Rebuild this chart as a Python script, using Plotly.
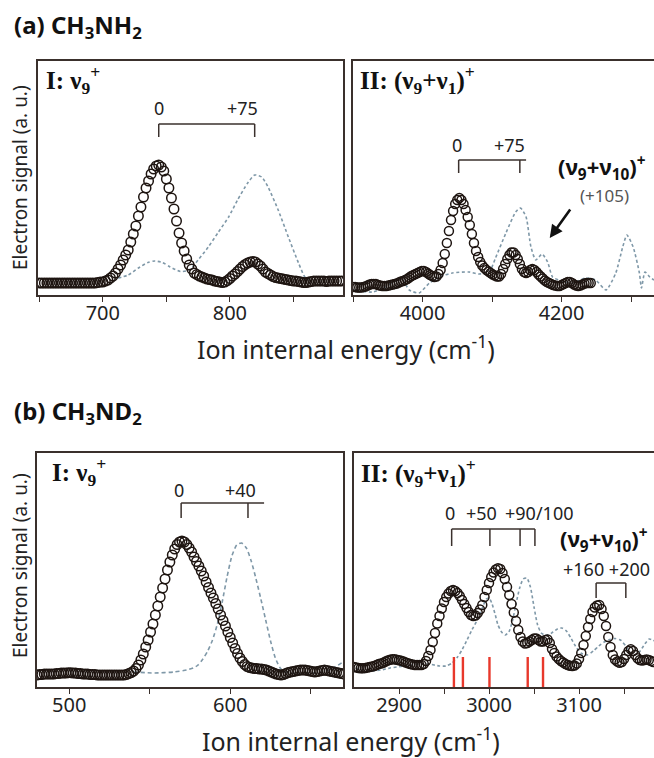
import plotly.graph_objects as go

W, H = 654, 758

# ---------------- DATA ----------------
# (a) CH3NH2, panel I : nu9+   (open circles on a uniform energy grid)
a1_circ_start, a1_circ_step = 650, 2
a1_circ = [12, 12, 12, 12, 12, 12, 12, 12, 12, 12, 12, 12, 12, 12, 12, 12, 12, 12, 12, 12, 12, 12, 12,
           12.5, 13, 13,
           14, 15, 17, 19, 22, 26, 30, 35, 40, 45, 53, 61, 69, 79, 88, 98, 107, 114, 121, 126, 129, 130,
           128, 124, 116, 107, 97, 86, 74, 62, 52, 44, 36, 30, 26, 22, 20.5, 19, 18, 17, 16, 15.5, 15,
           14, 13.5, 13, 12.5, 13, 14.5, 16.5, 19, 21, 23.5, 26, 28.5, 30.5, 32, 33, 33.5, 33, 31, 29,
           26, 23, 21.5, 20, 18.5, 17.5, 17, 16.5, 16, 15.5, 15, 14.5, 14, 14, 13.5, 13, 12.5, 12.5, 13,
           13.5, 14, 14, 14, 14, 14, 13.5, 14, 14, 14, 14, 14, 14]
a1_dash_x = [712, 720, 728, 735.5, 741, 747, 753, 761, 768, 775, 783, 791, 799, 806, 814, 819.5,
             825, 830, 838, 846, 854, 859, 863]
a1_dash_y = [17, 20, 27, 32.5, 34, 32.5, 28, 23.5, 25, 35, 48, 63, 78, 95, 112, 120,
             118, 108, 85, 58, 32, 18, 15]

# (a) CH3NH2, panel II : (nu9+nu1)+
a2_circ_start, a2_circ_step = 3900, 3
a2_circ = [8, 8, 7.5, 7.5, 7.5, 8, 8.5, 9.5, 10.5, 11, 11, 11, 10, 9.5, 9, 9, 9, 9.5, 10, 10.5,
           11, 11.5, 12.5, 13.5, 14, 15, 16, 17.5, 19, 20, 21, 22, 23, 24, 24, 23, 21.5, 20, 19, 18,
           18.5, 21, 25, 32, 41, 52, 64, 75, 84, 91, 95, 97, 95, 91, 85, 78, 70, 61, 52, 44,
           38, 33, 29.5, 27, 25, 23.5, 22, 20.5, 19.5, 18.5, 18.5, 21, 26, 31, 36, 40, 42.5, 42.5, 40, 36,
           31, 26, 23, 22, 23, 25, 26, 25, 23, 20.5, 18.5, 16.5, 14.5, 13, 12, 11, 10, 9.5, 9, 9,
           10, 11, 12, 13, 13, 12, 10.5, 9.5, 9, 9.5, 10.5, 11.5, 12, 12, 12]
a2_dash_x = [3899, 3928, 3947, 3969, 3981, 3995, 4010, 4024, 4043, 4067, 4081, 4096, 4105, 4120,
             4134, 4141, 4149, 4156, 4163, 4172, 4180, 4187, 4196, 4216, 4235, 4249, 4264, 4278,
             4288, 4294, 4303, 4312, 4315, 4320, 4327, 4333]
a2_dash_y = [5, 3, 8, 17, 5, 2, 12, 18, 22, 23, 21, 23, 37, 62,
             83, 87, 78, 48, 35, 41, 33, 18, 15, 12, 17, 15, 5, 22,
             48, 60, 48, 22, 7, 23, 18, 15]

# (b) CH3ND2, panel I : nu9+
b1_circ_start, b1_circ_step = 480, 1.5
b1_circ = [12, 12.5, 12.5, 13, 13, 13, 13, 13, 13.5, 13.5, 14, 14, 14, 14.3, 14.3, 14, 14, 13.5, 13.5, 13,
           13, 13, 12.5, 12.5, 12.5, 12, 12, 12, 12, 12, 12, 12, 12, 12, 12, 12, 12,
           12.5, 13.5, 14.5, 16, 18.5, 22, 27, 33, 40, 47, 55, 63, 72, 81, 90, 99, 108, 117, 125, 132,
           138, 142.5, 145, 146, 145, 142.5,
           139, 135, 130, 125.5, 121, 116, 111, 105, 99.5, 94, 89, 83.5, 78, 72, 66.5, 61, 55, 49.5, 44,
           38.5, 33.5, 29, 25.5, 22.5, 20.5, 19.5, 19, 18.5, 18.5, 18, 18, 17.5, 17, 16, 15, 14, 13, 12.5,
           12, 12.5, 13.5, 14.5, 15, 15.5, 16, 16.5, 17, 17, 17, 16.5, 16, 15.5, 15, 15.5, 16, 16.5, 17,
           16.5, 16, 15.5, 15, 14.5, 14, 13.5, 13]
b1_dash_x = [540, 553, 565, 573, 577, 580, 583, 586, 589, 592, 595, 598, 601, 604, 607, 610, 613,
             616, 619, 622, 625, 628, 631, 634, 642, 650, 658, 664, 670]
b1_dash_y = [15, 14, 15, 17, 19, 22, 28, 36, 47, 63, 85, 110, 131, 142, 144, 139, 126,
             108, 88, 67, 46, 29, 19, 15, 13.5, 14, 15, 19, 25]

# (b) CH3ND2, panel II : (nu9+nu1)+
b2_circ_start, b2_circ_step = 2850, 2.5
b2_circ = [20, 19.5, 19, 18.7, 18.7, 19, 19.5, 20, 20.5, 21, 22, 23, 23.5, 24.3, 25.5, 26.5, 27.3, 27.7,
           27.7, 27.3, 26.8, 26.3, 25.5, 24.5, 23.7, 23, 22.5, 22, 22, 22, 22, 23, 26, 31, 37, 45, 54,
           63.5, 71, 78.5, 85, 90, 93.5, 96, 97, 96, 94, 91, 87, 83, 79, 75, 72, 71, 71.5, 74, 77.5, 82,
           90, 97, 104, 110, 114.5, 117.5, 118.7, 118, 114, 108, 100, 92, 83, 74.5, 66, 57, 50, 45.5,
           43.5, 44, 45.5, 47, 48.5, 48.5, 47, 45.5, 45.5, 47, 47.5, 44, 38, 34, 30.5, 28, 26, 24.5, 23,
           22, 21.3, 21, 21.5, 23.5, 28, 34, 42, 51, 60, 68, 75, 79.5, 81.5, 82, 78, 71, 61, 50, 40, 32,
           27.5, 25.5, 24.3, 25, 28, 32, 36, 37.7, 36, 32, 28.7, 27, 26.5, 27, 27.5, 27, 26, 25]
b2_dash_x = [2852, 2860, 2870, 2880, 2890, 2905, 2920, 2933, 2945, 2952, 2959, 2965, 2970, 2975, 2981,
             2988, 2993, 2997, 3000, 3003, 3007, 3010, 3014, 3018, 3022, 3026, 3030, 3034, 3038, 3042,
             3046, 3050, 3054, 3058, 3062, 3066, 3071, 3076, 3081, 3086, 3091, 3096, 3102, 3109, 3116,
             3122, 3128, 3134, 3140, 3146, 3152, 3157, 3162, 3168, 3173, 3178, 3184]
b2_dash_y = [19, 17, 16, 17, 19, 21, 22.5, 23, 21, 21, 24, 30, 37, 46, 57,
             69, 80, 88, 89, 84, 72, 62, 55, 52, 55, 66, 83, 99, 108, 109,
             100, 80, 62, 54, 52, 52, 55, 58, 59, 56, 49, 41, 34, 32, 36,
             41, 45, 47.5, 48.5, 47, 41, 34, 32, 36, 43, 48, 46]
b2_stick_x = [2961, 2971, 3000.5, 3043, 3060]
b2_stick_h = [30, 30, 30, 30, 30]

# progression markers (cm-1) and their labels
a1_prog = [744, 819.5]
a1_prog_labels = ["0", "+75"]
a2_prog = [4052, 4140]
a2_prog_labels = ["0", "+75"]
b1_prog = [569.5, 611]
b1_prog_labels = ["0", "+40"]
b2_prog = [2958.5, 3001, 3034.5, 3051]
b2_prog_labels = ["0", "+50", "+90/100"]
b2_v10_prog = [3119, 3152]

# axis ranges & ticks (labelled major ticks, unlabelled minor ticks)
a1_range, a2_range = [649, 889], [3900, 4333]
b1_range, b2_range = [480, 670], [2850, 3183.3]
a1_major, a1_minor = [700, 800], [650, 750, 850]
a2_major, a2_minor = [4000, 4200], [3900, 4100, 4300]
b1_major, b1_minor = [500, 600], [550, 650]
b2_major, b2_minor = [2900, 3000, 3100], [2950, 3050, 3150]

# ---------------- STYLE / LAYOUT ----------------
SANS = "Noto Sans"
SERIF = "Liberation Serif"
CIRC = "#1e1511"
DASH = "#7f98a8"
LINE = "#3a302c"


def grid(start, step, vals):
    return [start + step * i for i in range(len(vals))]


def px(x):
    return x / W


def py(y):
    return 1 - y / H


fig = go.Figure()

panels = [
    ("x", "y", a1_circ_start, a1_circ_step, a1_circ, a1_dash_x, a1_dash_y, "3px,2.5px", 9.5),
    ("x2", "y2", a2_circ_start, a2_circ_step, a2_circ, a2_dash_x, a2_dash_y, "3px,2.5px", 9),
    ("x3", "y3", b1_circ_start, b1_circ_step, b1_circ, b1_dash_x, b1_dash_y, "4px,3px", 9.5),
    ("x4", "y4", b2_circ_start, b2_circ_step, b2_circ, b2_dash_x, b2_dash_y, "3px,2.5px", 9),
]
for xa, ya, s0, st, vals, dx, dy, dpat, msize in panels:
    fig.add_trace(go.Scatter(x=dx, y=dy, mode="lines", xaxis=xa, yaxis=ya,
                             line=dict(color=DASH, width=1.6, dash=dpat, shape="spline", smoothing=0.6),
                             showlegend=False, hoverinfo="skip"))
    fig.add_trace(go.Scatter(x=grid(s0, st, vals), y=vals, mode="markers", xaxis=xa, yaxis=ya,
                             marker=dict(symbol="circle-open", size=msize, color=CIRC,
                                         line=dict(width=1.5, color=CIRC)),
                             showlegend=False, hoverinfo="skip"))

# red sticks
sx, sy = [], []
for x, h in zip(b2_stick_x, b2_stick_h):
    sx += [x, x, None]
    sy += [0, h, None]
fig.add_trace(go.Scatter(x=sx, y=sy, mode="lines", xaxis="x4", yaxis="y4",
                         line=dict(color="#e8382b", width=2.4), showlegend=False, hoverinfo="skip"))

# axes
geo = {
    "": (38, 343, 61, 295, a1_range, a1_major, a1_minor, True),
    "2": (353, 654, 61, 295, a2_range, a2_major, a2_minor, False),
    "3": (37, 343, 453, 687, b1_range, b1_major, b1_minor, True),
    "4": (354, 654, 453, 687, b2_range, b2_major, b2_minor, False),
}
layout_axes = {}
for k, (x0, x1, y0, y1, rng, major, minor, right) in geo.items():
    layout_axes["xaxis" + k] = dict(
        domain=[px(x0), min(1.0, px(x1))], range=rng, anchor="y" + k,
        showline=True, linecolor=LINE, linewidth=1.5, mirror=True,
        ticks="outside", ticklen=5, tickwidth=1.3, tickcolor=LINE,
        tickvals=major, ticktext=[str(v) for v in major],
        minor=dict(tickvals=minor, ticks="outside", ticklen=5, tickwidth=1.3, tickcolor=LINE,
                   showgrid=False),
        showgrid=False, zeroline=False, ticklabelstandoff=-6,
        tickfont=dict(family=SANS, size=20, color="#222"))
    layout_axes["yaxis" + k] = dict(
        domain=[py(y1), py(y0)], range=[0, 234], anchor="x" + k,
        showline=True, linecolor=LINE, linewidth=1.5, mirror=right,
        ticks="", showticklabels=False, showgrid=False, zeroline=False)

shapes = []


def bracket(xa, ya, ticks, ytop, ybot, xend=None):
    xe = ticks[-1] if xend is None else xend
    shapes.append(dict(type="line", xref=xa, yref=ya, x0=ticks[0], x1=xe, y0=ytop, y1=ytop,
                       line=dict(color=LINE, width=1.5)))
    for t in ticks:
        shapes.append(dict(type="line", xref=xa, yref=ya, x0=t, x1=t, y0=ytop, y1=ybot,
                           line=dict(color=LINE, width=1.5)))


bracket("x", "y", a1_prog, 171, 158)
bracket("x2", "y2", a2_prog, 135, 122, xend=4149)
bracket("x3", "y3", b1_prog, 184, 169, xend=621)
bracket("x4", "y4", b2_prog, 158, 141)
bracket("x4", "y4", b2_v10_prog, 104, 89)

ann = []


def text(x, y, s, size, family=SANS, xanchor="center", color="#222", textangle=0):
    ann.append(dict(x=px(x), y=py(y), xref="paper", yref="paper", text=s, showarrow=False,
                    xanchor=xanchor, yanchor="middle", textangle=textangle,
                    font=dict(family=family, size=size, color=color)))


def dtext(xa, ya, x, y, s, size, xanchor="center", color="#222", bold=False):
    ann.append(dict(x=x, y=y, xref=xa, yref=ya, text=("<b>%s</b>" % s) if bold else s,
                    showarrow=False, xanchor=xanchor, yanchor="middle",
                    font=dict(family=SANS, size=size, color=color)))


text(12, 26, "<b>(a) CH<sub>3</sub>NH<sub>2</sub></b>", 24, xanchor="left", color="#111")
text(12, 412, "<b>(b) CH<sub>3</sub>ND<sub>2</sub></b>", 24, xanchor="left", color="#111")
text(20, 178, "Electron signal (a. u.)", 19, textangle=-90)
text(20, 566, "Electron signal (a. u.)", 19, textangle=-90)
text(346, 347, "Ion internal energy (cm<sup>-1</sup>)", 25)
text(351, 739, "Ion internal energy (cm<sup>-1</sup>)", 25)

text(44, 80, "<b>I: ν<sub>9</sub><sup>+</sup></b>", 25, family=SERIF, xanchor="left", color="#111")
text(358, 80, "<b>II: (ν<sub>9</sub>+ν<sub>1</sub>)<sup>+</sup></b>", 25, family=SERIF, xanchor="left", color="#111")
text(50, 472, "<b>I: ν<sub>9</sub><sup>+</sup></b>", 25, family=SERIF, xanchor="left", color="#111")
text(359, 473, "<b>II: (ν<sub>9</sub>+ν<sub>1</sub>)<sup>+</sup></b>", 25, family=SERIF, xanchor="left", color="#111")

# progression labels
for xv, lab in zip([744, 810], a1_prog_labels):
    dtext("x", "y", xv, 187, lab, 18)
for xv, lab in zip([4050, 4125], a2_prog_labels):
    dtext("x2", "y2", xv, 150, lab, 18)
for xv, lab in zip([568.3, 606.6], b1_prog_labels):
    dtext("x3", "y3", xv, 197, lab, 18)
for xv, lab in zip([2957, 2992, 3055.5], b2_prog_labels):
    dtext("x4", "y4", xv, 174, lab, 18)

dtext("x2", "y2", 4192, 127, "(ν<sub>9</sub>+ν<sub>10</sub>)<sup>+</sup>", 22, xanchor="left", bold=True, color="#111")
dtext("x2", "y2", 4262, 99, "(+105)", 17, color="#555")
dtext("x4", "y4", 3077, 148, "(ν<sub>9</sub>+ν<sub>10</sub>)<sup>+</sup>", 22, xanchor="left", bold=True, color="#111")
dtext("x4", "y4", 3130, 118, "+160 +200", 18)

ann.append(dict(x=4183, y=57, xref="x2", yref="y2", ax=4214, ay=87, axref="x2", ayref="y2",
                showarrow=True, arrowhead=2, arrowsize=1, arrowwidth=2.6, arrowcolor="#111", text=""))

fig.update_layout(width=W, height=H, margin=dict(l=0, r=0, t=0, b=0),
                  paper_bgcolor="white", plot_bgcolor="white",
                  shapes=shapes, annotations=ann, **layout_axes)

fig.write_html("out.html")
